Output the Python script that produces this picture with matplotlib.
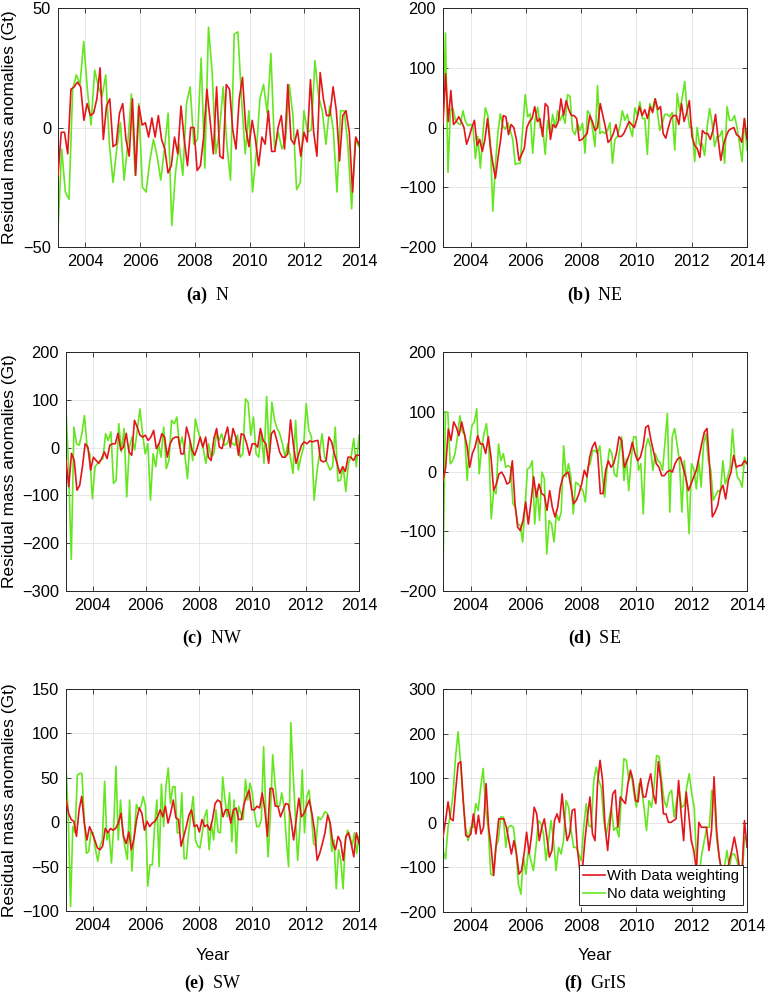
import numpy as np
import matplotlib
matplotlib.use("Agg")
import matplotlib.pyplot as plt

plt.rcParams['font.family'] = ['Liberation Sans', 'DejaVu Sans']
plt.rcParams['mathtext.fontset'] = 'custom'
plt.rcParams['mathtext.rm'] = 'Liberation Serif'
plt.rcParams['mathtext.bf'] = 'Liberation Serif:bold'

# residual mass anomalies (Gt), 2003 -> 2014
n_red = [-20, -2, -2, -11, 16, 17, 19, 17, 3, 10, 5, 6, 12, 25, -5, 9, 12, -8, -7, 6, 10, -5, -12, 12,
         -20, 9, 1, 2, -4, 4, -4, 5, -5, -9, -19, -16, -4, -11, 9, -5, -16, 0, 0, -18, -16, -4, 16, 3,
         -11, 17, -12, -13, 18, 16, -1, -9, 12, 21, 0, -8, 3, -5, -16, -4, -7, 7, -10, -10, 0, 5, -9, 18,
         -5, -7, -1, -12, -2, -6, 20, -2, -12, 23, 12, 5, 5, 17, 7, -14, 5, 7, -2, -27, -4, -7]
n_green = [-43, -9, -27, -30, 16, 22, 18, 36, 16, 1, 24, 17, 13, 22, -7, -23, -9, 2, -22, -7, 14, -20,
           10, -25, -27, -14, -5, -12, -22, -9, 6, -41, -19, -7, -20, 10, 17, -7, -5, 29, -17, 42, 23,
           -11, -1, 17, -7, -22, 39, 40, 12, -11, 7, -27, -11, 12, 18, 6, 31, -9, -2, -9, -5, 18, 5,
           -26, -23, 7, -2, -1, 28, 13, 7, -7, 9, -1, -27, 7, 7, -8, -34, -5, -8]

ne_red = [7, 90, 10, 62, 5, 10, 18, 10, 0, -28, -15, 0, 12, -30, -20, -40, -20, 15, -30, -60, -85, -50,
          -20, 20, 18, -12, 5, 0, -20, -55, -45, -35, 0, 10, 15, 35, 10, 15, -15, 40, 35, -20, 5, 0, 10,
          48, 20, 45, 30, 20, 20, 15, -22, -20, -15, -10, 20, 10, -5, 0, 40, 20, 0, -25, -20, -10, 5,
          -15, -15, -10, 0, 10, 5, 0, 15, 35, 20, 30, 15, 35, 25, 48, 30, 35, -10, -18, 0, 15, 20, 20,
          5, 40, 10, 25, 45, -15, -30, -35, -50, -5, -10, -10, -20, -5, 22, -20, -55, -30, -15, -5, -2,
          0, -12, -15, -25, 15, -20]
ne_green = [7, 158, -75, 30, 32, 12, 7, 5, 28, 10, 3, 5, 3, -52, -15, -68, -10, 33, 20, -25, -140, -65,
            -10, 23, 3, -3, 8, -5, -20, -62, -60, -60, 0, 55, 18, 23, -43, 15, 34, 0, 0, -45, 12, -10,
            22, 0, 28, 12, 22, 7, 55, 52, -5, -12, 7, -5, 7, -43, 28, 22, -2, -32, 70, -10, -7, -10, -5,
            8, -60, -20, -15, 3, 28, 12, 22, 0, -15, 33, 20, 43, 15, 15, -45, 40, 28, 48, 28, -5, 7, 22,
            22, 18, 25, -38, 57, 28, 50, 77, 28, 0, 0, -57, 0, -30, -27, -47, 0, 32, 7, -32, -15, -15,
            -5, -60, 35, 12, 12, 20, 0, -27, -57, 15, -38]

nw_red = [-27, -82, -12, -27, -89, -79, -40, 8, 1, -47, -20, -27, -33, -23, -9, -23, 5, 8, 8, 30, -5, 1,
          30, -9, -16, 57, 43, 26, 22, 26, 15, 22, 36, -2, 8, 29, 22, -20, 8, 19, 22, 22, -13, -13, 43,
          22, -5, -16, 1, 22, 1, 22, -20, -27, 19, 40, 1, -2, 22, 43, 1, 40, 22, -16, 29, 26, 8, -16, 8,
          8, 1, 40, 15, 8, -33, 29, 36, 15, -9, -20, -20, -13, 58, 8, -33, -13, 5, 12, 8, 14, 12, 14,
          15, -27, -30, -27, 22, 12, -13, -33, -54, -40, -50, -20, -20, -27, -16, -16]
nw_green = [81, -47, -234, 43, 8, 5, 29, 67, 1, -13, -107, -40, -33, -27, -23, 29, 15, 33, -75, -68, 50,
            -9, 40, -103, 1, 22, -5, 36, 81, 29, -13, 8, -110, -13, -40, 8, -20, 43, -44, -27, 57, 50,
            64, 1, 22, -13, -65, 15, -27, 60, 36, 15, -2, -33, 8, -20, -13, 29, 15, 29, 5, 8, 22, 8, 5,
            26, -20, -13, 102, 95, 26, 64, -13, -20, 33, -33, 107, -13, 95, 57, 40, 29, 8, -20, 8, -20,
            -54, 57, -47, -20, 1, 92, 36, 22, -110, -54, -13, 29, -20, -33, -47, -40, 43, -70, -68, -40,
            -92, -33, -20, 19, -40, 26]

se_red = [-15, 7, 71, 52, 83, 74, 60, 83, 63, 43, 7, 30, 41, 60, 46, 46, 30, 58, 24, -32, -21, -4, -1,
          -9, -21, -18, 18, -54, -93, -99, -82, -51, -88, -51, -9, -43, -21, -37, -40, -65, -32, -60,
          -76, -60, -26, -9, -4, -1, -26, -54, -48, -37, -21, 2, -9, 24, 41, 49, 30, -37, -37, 2, 18, 7,
          13, 30, 58, 52, 7, 18, 30, 49, 30, 18, 24, 41, 74, 77, 52, 32, 13, 7, -7, -7, -1, 2, -1, 13,
          21, 24, 7, -9, -32, -21, -9, 2, 24, 46, 66, 72, 7, -76, -68, -57, -32, -23, -46, -15, -1, 27,
          7, 10, 10, 18, 13]
se_green = [-171, 100, 99, 13, 18, 30, 58, 93, 66, 63, -15, 46, 77, 83, 105, -4, 41, 63, 80, 41, -79,
            -32, -37, 46, 18, 30, 7, 10, 7, -54, -60, -88, -90, -118, -60, 4, 7, 18, -88, -29, -82, -1,
            -12, -138, -82, -88, -118, -71, -82, -68, 43, -9, 13, -9, -71, -18, -21, -26, -32, -51, 7,
            13, 35, 35, 30, 43, -4, -43, 7, 38, 30, -4, -9, 30, 58, -15, 21, -32, 21, 58, 58, 2, 13, -71,
            41, 55, 41, 2, 30, 18, 15, 2, 49, 97, -68, 58, 72, 46, 18, -68, 18, -26, -104, 13, 4, -29, 18,
            -26, 46, 63, 18, 2, -48, -40, -32, -34, 18, -21, -9, 7, 71, 18, -9, -15, -26, 24, 13]

sw_red = [25, 10, 3, 1, -16, 14, 29, -1, -20, -5, -12, -20, -29, -31, -27, -7, -12, -7, -9, -7, -1, 10,
          -16, -24, -11, -31, -18, 3, 16, 10, -9, 1, -5, -1, 1, 6, 14, 6, 18, -1, 10, 25, 5, 3, -27, -16,
          -5, 8, 14, -5, -3, -11, 3, -5, -3, -9, 3, 21, 25, 23, 6, 14, 14, -1, 14, 16, 3, 3, 20, 29, 36,
          14, 14, 18, 16, 33, 14, -16, 38, 38, 18, 18, 6, 14, 21, 20, 3, -20, 3, 27, 6, 10, 18, 25, 10,
          -9, -43, -35, -24, -12, 8, -1, -24, -31, -16, -22, -43, -16, -12, -24, -39, -12, -24]
sw_green = [63, 6, -95, -5, -12, 53, 55, 55, 5, -35, -33, -11, -12, -31, -44, -27, -20, 46, -20, -12, -46,
            -5, 63, -20, 25, -12, -29, -42, 25, -55, -16, 20, 14, 18, 29, 18, -72, -48, -48, -5, 25, -50,
            43, -5, 40, 61, 21, 40, 40, -12, -12, 33, -41, -41, -12, 10, 29, -20, -27, -29, -12, 6, 14,
            -31, -1, -20, 14, -11, -12, 51, 25, 6, 33, -22, 25, -35, 18, 10, 3, 48, 25, 44, 33, 10, -5,
            -5, 3, 85, 10, -39, 10, 76, 44, 18, 18, 33, 18, -20, -50, 112, 55, 6, -43, -5, 59, -12, 29,
            36, 10, -24, -27, 6, 3, 6, 12, 10, 3, -33, -20, -75, -31, -43, -75, -20, -9, -16, -27, -12,
            -35, -16]

gris_red = [-32, 5, 47, 9, 5, 73, 133, 137, 50, -29, -32, -25, 20, -25, 17, -25, -10, 88, -10, -55, -118,
            -47, 9, 9, 9, -10, -40, -70, -40, -70, -115, -107, -70, -21, -70, -25, 35, 20, -40, -10, 9,
            -32, -77, -62, 5, 20, 1, 65, 5, -40, -25, 28, 31, -55, -107, -107, -40, 13, 58, -25, -40, 88,
            140, 95, -10, -62, 5, 65, 73, -10, 58, 50, 43, 88, 118, 95, 50, 47, 99, 58, 58, 88, 110, 65,
            43, 137, 95, 20, 20, 1, 1, 5, 9, 95, 20, -40, 69, 20, -40, -62, -107, 1, -10, -10, -10, -62,
            -17, 103, -17, -77, -107, -100, -115, -85, -62, -32, -62, -100, -115, 5, -55]
gris_green = [-62, -81, -10, 20, 65, 148, 204, 133, 50, -10, -40, -10, -10, 43, 28, 80, 122, 28, -10, -115,
              -118, -55, -40, 13, 13, -55, -10, -6, -10, -55, -137, -160, -77, -115, -62, -85, -107, -55,
              5, -2, -25, -85, -40, 5, -40, -107, -55, -70, -40, 50, 35, -17, -55, -55, -70, -85, -10,
              43, -6, -10, 95, 125, 95, 80, 5, -25, 5, 35, -17, -10, -32, 58, 144, 140, 95, 110, 65, 35,
              88, 80, 35, -17, 50, 35, 80, 151, 148, 95, 50, 35, 65, 73, 13, 50, 73, 35, 39, 80, 110, 65,
              35, -100, -115, -70, -40, -10, -10, 73, 50, -40, -77, -115, -100, -62, -100, -70, -70, -85,
              -107, -130, -32, -40]

year_ticks = [2004, 2006, 2008, 2010, 2012, 2014]

RED = '#e3161c'
GREEN = '#66e620'
W, H = 767, 994

fig = plt.figure(figsize=(W / 100, H / 100), dpi=100)


def rect(x0, y0, x1, y1):
    # pixel box (top-left origin) -> figure fraction
    return [x0 / W, 1 - y1 / H, (x1 - x0) / W, (y1 - y0) / H]


# tag, name, red, green, yticks, box, caption y, ylabel x
panels = [
    ('(a)', 'N', n_red, n_green, [-50, 0, 50], (58, 8, 359, 247), 295, 10),
    ('(b)', 'NE', ne_red, ne_green, [-200, -100, 0, 100, 200], (443, 8, 747, 247), 295, None),
    ('(c)', 'NW', nw_red, nw_green, [-300, -200, -100, 0, 100, 200], (66, 352, 359, 591), 638, 10),
    ('(d)', 'SE', se_red, se_green, [-200, -100, 0, 100, 200], (443, 352, 747, 591), 638, None),
    ('(e)', 'SW', sw_red, sw_green, [-100, -50, 0, 50, 100, 150], (66, 689, 359, 911), 983, 10),
    ('(f)', 'GrIS', gris_red, gris_green, [-200, -100, 0, 100, 200, 300], (443, 689, 747, 912), 983, None),
]

for tag, name, red, green, yt, box, cap_y, ylab_x in panels:
    ax = fig.add_axes(rect(*box))
    t_red = np.linspace(2003, 2014, len(red))
    t_green = np.linspace(2003, 2014, len(green))
    l_red, = ax.plot(t_red, red, color=RED, lw=1.2, zorder=3, label='With Data weighting')
    l_green, = ax.plot(t_green, green, color=GREEN, lw=1.2, zorder=2, label='No data weighting')

    ax.set_xlim(2003, 2014)
    ax.set_ylim(yt[0], yt[-1])
    ax.set_xticks(year_ticks)
    ax.set_yticks(yt)
    ax.grid(True, color='#e3e3e3', lw=0.6)
    ax.set_axisbelow(True)
    ax.tick_params(direction='in', top=True, right=True, length=3.5, width=0.6,
                   labelsize=11.8, color='#262626', pad=5)
    for s in ax.spines.values():
        s.set_color('#262626')
        s.set_linewidth(0.7)

    x0, y0, x1, y1 = box
    if ylab_x is not None:
        fig.text(ylab_x / W, 1 - (y0 + y1) / 2 / H, 'Residual mass anomalies (Gt)',
                 rotation=90, ha='center', va='center', fontsize=12.5)
    if tag in ('(e)', '(f)'):
        fig.text((x0 + x1) / 2 / W, 1 - 955 / H, 'Year', ha='center', va='center', fontsize=12.2)
    fig.text((x0 + x1) / 2 / W, 1 - cap_y / H, r'$\mathbf{' + tag + r'}$  ' + name,
             ha='center', va='center', fontsize=13, family='Liberation Serif')

    if tag == '(f)':
        leg = ax.legend(handles=[l_red, l_green], loc='lower right',
                        bbox_to_anchor=(0.987, 0.031), borderaxespad=0, fontsize=10.6,
                        fancybox=False, framealpha=1, edgecolor='#262626',
                        handlelength=1.5, handletextpad=0.15, borderpad=0.25, labelspacing=0.3)
        leg.get_frame().set_linewidth(0.7)

fig.savefig('out.png', dpi=100)
